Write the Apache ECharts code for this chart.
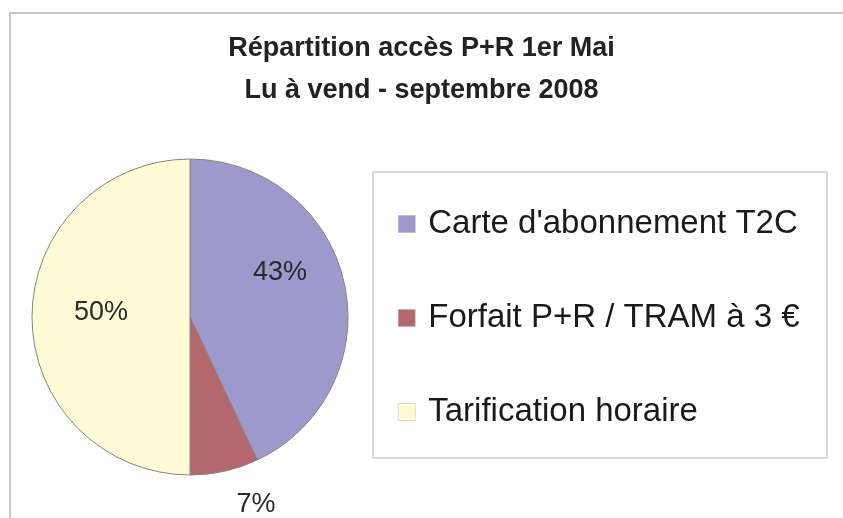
<!DOCTYPE html>
<html>
<head>
<meta charset="utf-8">
<script src="https://cdn.jsdelivr.net/npm/echarts@6/dist/echarts.min.js"></script>
<style>
  html, body { margin: 0; padding: 0; background: #fff; }
  #chart { width: 843px; height: 518px; }
</style>
</head>
<body>
<div id="chart"></div>
<script>
const categories = ["Carte d'abonnement T2C", "Forfait P+R / TRAM à 3 €", "Tarification horaire"];
const shares = [43, 7, 50];
const colors = ["#9d99cd", "#b5676e", "#fffbd6"];
// label nudges (Excel places them differently from echarts)
const labelShift = [[10, -27], [48, 108], [-7, -4]];

const myChart = echarts.init(document.getElementById("chart"));

myChart.setOption({
  backgroundColor: "#fff",
  animation: false,
  title: {
    text: "Répartition accès P+R 1er Mai\nLu à vend - septembre 2008",
    left: "center",
    top: 28,
    padding: [0, 0, 0, 17],
    textStyle: {
      fontFamily: "Liberation Sans",
      fontSize: 27,
      fontWeight: "bold",
      color: "#222",
      lineHeight: 42,
    },
  },
  legend: {
    orient: "vertical",
    left: 393,
    top: 201,
    itemWidth: 17,
    itemHeight: 17,
    itemGap: 58,
    icon: "rect",
    selectedMode: false,
    data: categories,
    itemStyle: { borderColor: "#b8b0a8", borderWidth: 0.5 },
    textStyle: {
      fontFamily: "Liberation Sans",
      fontSize: 33,
      lineHeight: 36,
      color: "#1a1a1a",
      padding: [0, 0, 0, 8],
    },
  },
  graphic: [
    {
      type: "polyline",
      shape: { points: [[843, 13], [10, 13], [10, 518]] },
      style: { stroke: "#c9c5c1", lineWidth: 2, fill: null },
    },
    {
      type: "rect",
      shape: { x: 373, y: 172, width: 454, height: 286 },
      style: { stroke: "#d2cdc8", lineWidth: 1.5, fill: null },
    },
  ],
  series: [
    {
      type: "pie",
      center: [190, 317],
      radius: 158,
      startAngle: 90,
      clockwise: true,
      data: categories.map((name, i) => ({
        name: name,
        value: shares[i],
        itemStyle: { color: colors[i] },
      })),
      itemStyle: { borderColor: "#8e837b", borderWidth: 1 },
      label: {
        show: true,
        position: "inside",
        formatter: "{c}%",
        fontFamily: "Liberation Sans",
        fontSize: 27,
        color: "#2a2a2a",
      },
      labelLine: { show: false },
      labelLayout: (params) => ({
        dx: labelShift[params.dataIndex][0],
        dy: labelShift[params.dataIndex][1],
      }),
      emphasis: { disabled: true },
    },
  ],
});
</script>
</body>
</html>
